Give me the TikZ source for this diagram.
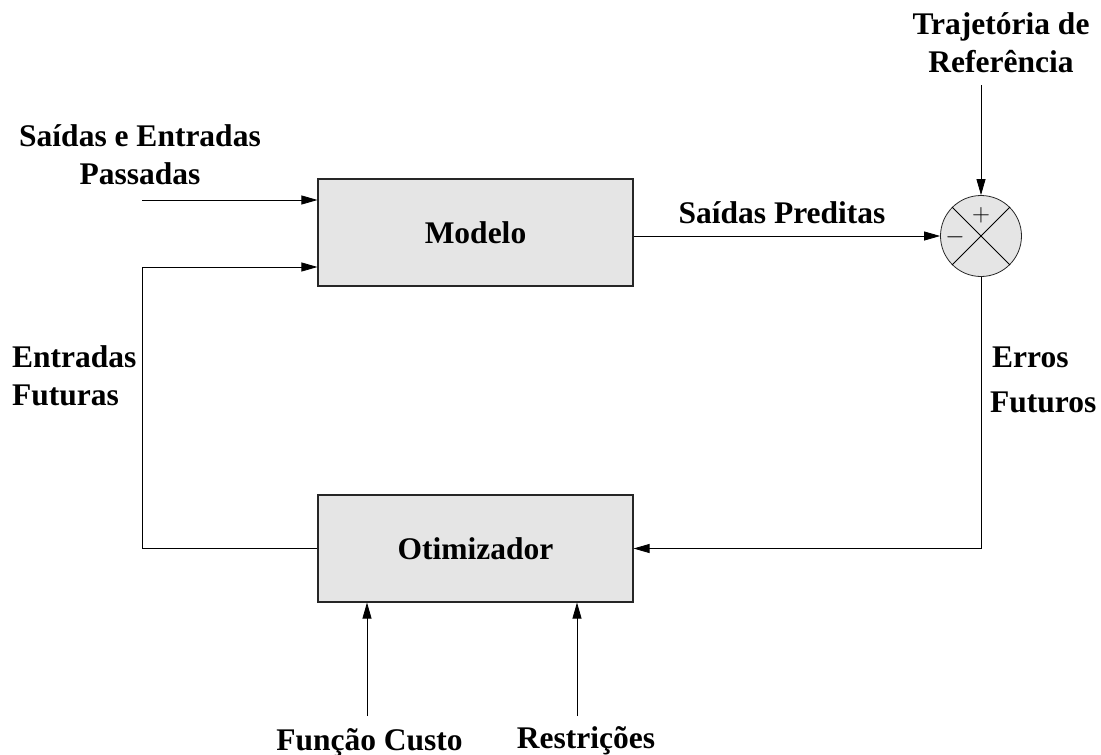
\documentclass[tikz,border=0pt]{standalone}
\usepackage{fontspec}
\setmainfont{Liberation Serif}
\usetikzlibrary{arrows.meta}

\begin{document}
\begin{tikzpicture}[x=1pt,y=-1pt,
    blk/.style={draw=black!85, line width=1.1pt, fill=black!10, minimum width=315pt, minimum height=107pt, font=\bfseries\fontsize{31.5}{37.5}\selectfont},
    lbl/.style={inner sep=0pt, font=\bfseries\fontsize{31.5}{37.5}\selectfont},
    sgn/.style={inner sep=0pt, font=\fontsize{25}{25}\selectfont},
    arr/.style={line width=0.8pt, -{Triangle[length=16pt,width=9pt]}}]
  \useasboundingbox (0,0) rectangle (1101,755);
  \node[blk] (modelo) at (475.5,232.5) {Modelo};
  \node[blk] (otim) at (475.5,548.5) {Otimizador};
  \node[draw=black!85, line width=0.8pt, fill=black!10, circle, minimum size=81pt, inner sep=0pt] (sum) at (981,236) {};
  \draw[line width=0.8pt] (sum.north west) -- (sum.south east);
  \draw[line width=0.8pt] (sum.north east) -- (sum.south west);
  \node[sgn] (plus) at (981,215) {$+$};
  \node[sgn] (minus) at (955,237) {$-$};
  \node[lbl, align=center, anchor=base] (traj) at (1001,72) {Trajetória de\\Referência};
  \node[lbl, align=center, anchor=base] (passadas) at (140,184) {Saídas e Entradas\\Passadas};
  \node[lbl, align=left, anchor=base west] (futuras) at (12,405) {Entradas\\Futuras};
  \node[lbl, anchor=base west] (erros) at (992,367) {Erros};
  \node[lbl, anchor=base west] (futuros) at (990,412) {Futuros};
  \node[lbl, anchor=base] (preditas) at (782,223) {Saídas Preditas};
  \node[lbl, anchor=base] (custo) at (369.5,750) {Função Custo};
  \node[lbl, anchor=base] (restr) at (586,748) {Restrições};
  \coordinate (pin) at (142,200);
  \coordinate (fb) at (142,267);
  \coordinate (ref) at (981,85);
  \coordinate (fc) at (367,716);
  \coordinate (rs) at (577,716);
  \draw[arr] (pin) -- (pin -| modelo.west);
  \draw[arr] (otim.west) -| (fb) -- (fb -| modelo.west);
  \draw[arr] (modelo.east |- sum.west) -- (sum.west);
  \draw[arr] (ref) -- (sum.north);
  \draw[arr] (sum.south) |- (otim.east);
  \draw[arr] (fc) -- (fc |- otim.south);
  \draw[arr] (rs) -- (rs |- otim.south);
\end{tikzpicture}
\end{document}
